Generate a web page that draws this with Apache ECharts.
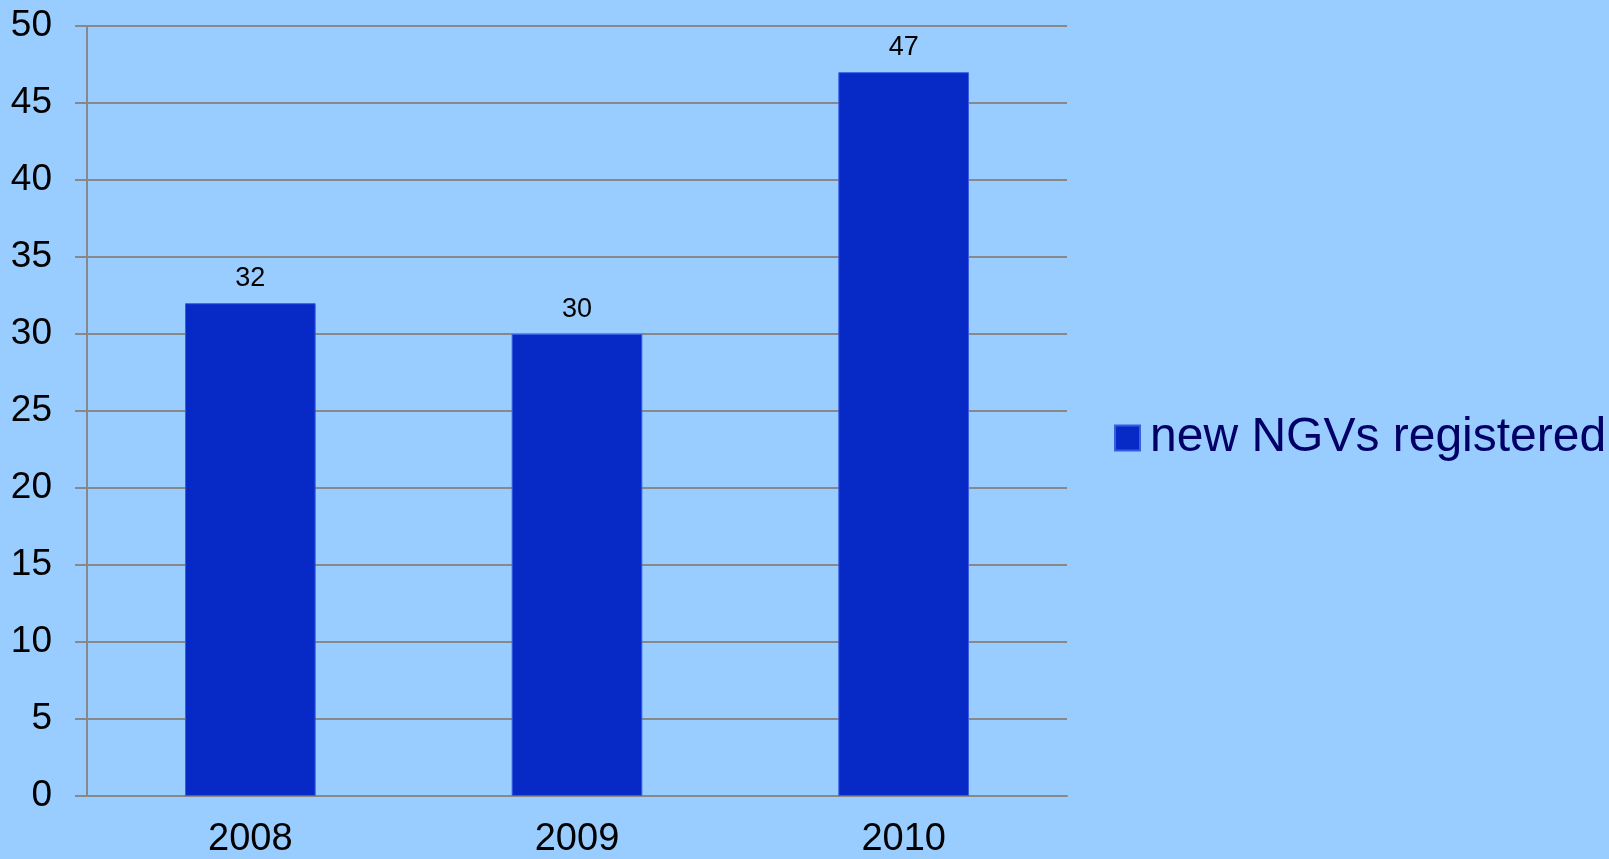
<!DOCTYPE html>
<html>
<head>
<meta charset="utf-8">
<script src="https://cdn.jsdelivr.net/npm/echarts@6/dist/echarts.min.js"></script>
<style>
html,body{margin:0;padding:0;background:#99CCFF;}
#chart{width:1609px;height:859px;}
</style>
</head>
<body>
<div id="chart"></div>
<script>
var categories = ['2008', '2009', '2010'];
var seriesName = 'new NGVs registered';
var values = [32, 30, 47];
var yTicks = [0, 5, 10, 15, 20, 25, 30, 35, 40, 45, 50];

var font = '"Liberation Sans", Arial, sans-serif';
var chart = echarts.init(document.getElementById('chart'));
chart.setOption({
  backgroundColor: '#99CCFF',
  animation: false,
  grid: {left: 87, right: 542, top: 26, bottom: 62},
  legend: {
    data: [seriesName],
    left: 1114,
    top: 414,
    padding: 0,
    itemWidth: 25,
    itemHeight: 25,
    icon: 'rect',
    textStyle: {fontFamily: font, fontSize: 48, color: '#000066', padding: [0, 0, 0, 5]}
  },
  xAxis: {
    type: 'category',
    data: categories,
    axisLine: {lineStyle: {color: '#888888', width: 2}},
    axisTick: {length: 11, lineStyle: {color: '#888888', width: 2}},
    axisLabel: {fontFamily: font, fontSize: 38, color: '#000', margin: 25}
  },
  yAxis: {
    type: 'value',
    min: yTicks[0],
    max: yTicks[yTicks.length - 1],
    interval: 5,
    axisLine: {show: true, lineStyle: {color: '#888888', width: 2}},
    axisTick: {show: true, length: 12, lineStyle: {color: '#888888', width: 2}},
    splitLine: {lineStyle: {color: '#888888', width: 2}},
    axisLabel: {fontFamily: font, fontSize: 37, color: '#000', margin: 35}
  },
  series: [{
    name: seriesName,
    type: 'bar',
    data: values,
    barWidth: '40%',
    itemStyle: {color: '#0729C6', borderColor: '#3A5CE0', borderWidth: 1},
    label: {show: true, position: 'top', distance: 11, fontFamily: font, fontSize: 27, color: '#000'}
  }]
});
</script>
</body>
</html>
